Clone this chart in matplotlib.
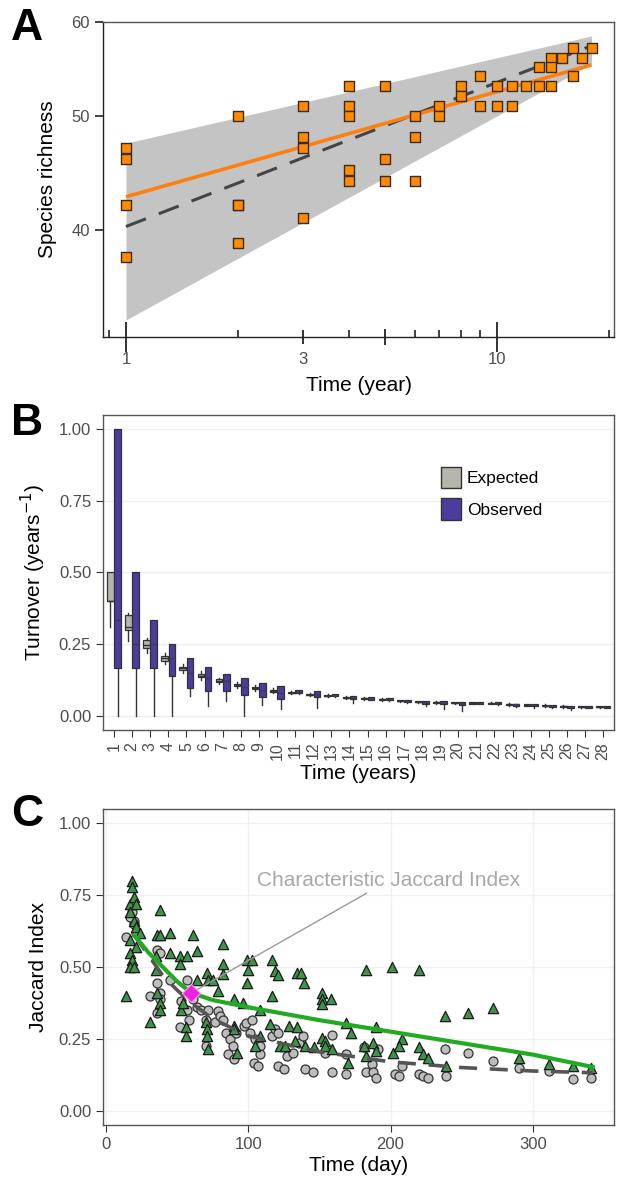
import matplotlib
matplotlib.use("Agg")
import matplotlib.pyplot as plt
from matplotlib.patches import Patch
from matplotlib.ticker import FixedLocator, NullLocator, NullFormatter
import numpy as np

plt.rcParams['font.family'] = ['Liberation Sans', 'DejaVu Sans']

# ---------------- panel A data ----------------
years_a = [1, 1, 1, 1,
           2, 2, 2, 2,
           3, 3, 3, 3,
           4, 4, 4, 4, 4,
           5, 5, 5,
           6, 6, 6,
           7, 7,
           8, 8,
           9, 9,
           10, 10,
           11, 11,
           12,
           13, 13,
           14, 14, 14,
           15,
           16, 16,
           17,
           18]
richness_a = [47, 46, 42, 38,
              50, 42, 42, 39,
              51, 48, 47, 41,
              53, 51, 50, 45, 44,
              53, 46, 44,
              50, 48, 44,
              51, 50,
              53, 52,
              54, 51,
              53, 51,
              53, 51,
              53,
              55, 53,
              56, 55, 53,
              56,
              57, 54,
              56,
              57]
fit_years = [1, 18]
fit_observed = [42.7, 55.2]
fit_expected = [40.3, 57.3]
band_lo = [33.6, 55.3]
band_hi = [47.4, 58.4]

# ---------------- panel B data ----------------
lags = list(range(1, 29))
exp_lo = [0.31, 0.26, 0.22, 0.18, 0.15, 0.125, 0.11, 0.095, 0.087, 0.078,
          0.074, 0.068, 0.064, 0.058, 0.055, 0.052, 0.048, 0.044, 0.042, 0.041,
          0.040, 0.039, 0.035, 0.033, 0.031, 0.028, 0.027, 0.027]
exp_q1 = [0.40, 0.30, 0.235, 0.19, 0.16, 0.135, 0.117, 0.103, 0.093, 0.084,
          0.078, 0.071, 0.067, 0.061, 0.058, 0.055, 0.050, 0.046, 0.044, 0.043,
          0.042, 0.041, 0.037, 0.035, 0.033, 0.030, 0.029, 0.029]
exp_med = [0.40, 0.31, 0.245, 0.20, 0.165, 0.14, 0.122, 0.107, 0.097, 0.087,
           0.080, 0.073, 0.069, 0.063, 0.060, 0.057, 0.052, 0.048, 0.046, 0.045,
           0.044, 0.043, 0.039, 0.037, 0.035, 0.032, 0.031, 0.031]
exp_q3 = [0.50, 0.35, 0.265, 0.21, 0.17, 0.146, 0.127, 0.112, 0.101, 0.091,
          0.082, 0.075, 0.071, 0.065, 0.062, 0.059, 0.054, 0.050, 0.048, 0.047,
          0.046, 0.045, 0.041, 0.039, 0.037, 0.034, 0.033, 0.033]
exp_hi = [0.50, 0.36, 0.27, 0.22, 0.18, 0.155, 0.133, 0.118, 0.106, 0.095,
          0.085, 0.078, 0.074, 0.068, 0.064, 0.061, 0.056, 0.052, 0.050, 0.049,
          0.048, 0.047, 0.043, 0.041, 0.039, 0.036, 0.035, 0.035]

obs_lo = [0.0, 0.0, 0.0, 0.0, 0.067, 0.032, 0.05, 0.0, 0.038, 0.023,
          0.075, 0.027, 0.065, 0.045, 0.055, 0.050, 0.045, 0.032, 0.022, 0.015,
          0.040, 0.038, 0.030, 0.028, 0.028, 0.020, 0.025, 0.026]
obs_q1 = [0.167, 0.167, 0.167, 0.14, 0.096, 0.085, 0.085, 0.071, 0.064, 0.058,
          0.079, 0.065, 0.068, 0.058, 0.056, 0.053, 0.048, 0.042, 0.040, 0.038,
          0.042, 0.040, 0.034, 0.032, 0.031, 0.026, 0.027, 0.028]
obs_med = [0.333, 0.25, 0.25, 0.2, 0.15, 0.13, 0.12, 0.1, 0.09, 0.08,
           0.083, 0.075, 0.071, 0.063, 0.060, 0.057, 0.052, 0.048, 0.046, 0.045,
           0.044, 0.043, 0.039, 0.037, 0.035, 0.031, 0.030, 0.031]
obs_q3 = [1.0, 0.5, 0.333, 0.25, 0.2, 0.17, 0.145, 0.13, 0.114, 0.104,
          0.088, 0.085, 0.076, 0.068, 0.064, 0.061, 0.056, 0.052, 0.050, 0.049,
          0.047, 0.046, 0.042, 0.040, 0.038, 0.035, 0.034, 0.035]
obs_hi = obs_q3

# ---------------- panel C data ----------------
tri_day = [14, 18.5, 18.5, 17, 20, 21, 17, 20, 21, 24, 17, 21, 17, 18.5, 17, 20,
           31, 35, 36, 38, 38, 35, 36, 38, 38, 45, 45, 52, 52, 53, 54, 56, 56, 57,
           61, 64, 64, 71, 72, 70, 71, 71, 72, 75, 79, 82.5, 82.5, 82.5,
           90, 90, 90, 92, 96, 99, 100, 99, 103, 108, 105, 108,
           116.5, 119, 121, 116.5, 115, 122, 126, 129, 134, 137, 139, 134, 133, 140, 146,
           152, 152, 152, 158, 152, 154, 154, 159, 169, 172, 170,
           183, 181, 183, 188, 190, 190, 201, 202, 208, 206, 220, 220, 223, 226,
           238, 239, 254.5, 272, 290, 311, 328, 341]
tri_jac = [0.40, 0.80, 0.78, 0.72, 0.745, 0.72, 0.69, 0.66, 0.64, 0.62, 0.595, 0.57, 0.55, 0.525, 0.50, 0.50,
           0.31, 0.54, 0.61, 0.70, 0.61, 0.49, 0.41, 0.375, 0.35, 0.62, 0.55, 0.54, 0.51, 0.35, 0.375, 0.29, 0.26, 0.54,
           0.61, 0.555, 0.455, 0.48, 0.455, 0.31, 0.283, 0.26, 0.214, 0.455, 0.415, 0.58, 0.51, 0.475,
           0.387, 0.295, 0.283, 0.20, 0.375, 0.525, 0.49, 0.445, 0.525, 0.35, 0.225, 0.26,
           0.525, 0.485, 0.473, 0.40, 0.30, 0.225, 0.225, 0.295, 0.48, 0.48, 0.445, 0.29, 0.243, 0.225, 0.22,
           0.41, 0.387, 0.37, 0.387, 0.254, 0.243, 0.225, 0.214, 0.306, 0.27, 0.167,
           0.49, 0.225, 0.19, 0.237, 0.29, 0.208, 0.50, 0.202, 0.248, 0.225, 0.49, 0.22, 0.196, 0.185,
           0.33, 0.156, 0.34, 0.358, 0.185, 0.162, 0.156, 0.147]
circ_day = [14, 20, 20, 18.5, 17, 21, 31, 36, 38, 38, 36, 38, 36, 45, 52, 53, 57, 57, 58.5, 61,
            64, 67, 70, 70, 72, 76.5, 79, 80.5, 82, 84.5, 87.5, 89, 86, 90, 91.5,
            97, 98.5, 101, 103, 105, 108, 108, 104, 107, 116.5, 119, 121, 121, 125, 127.5,
            131.5, 136, 138.5, 140, 145.5, 154, 159, 159, 169, 169, 181, 183, 187, 188, 190, 191,
            203, 206, 208, 220, 223, 226, 238, 239, 254.5, 272, 290, 311, 328, 341]
circ_jac = [0.606, 0.66, 0.65, 0.69, 0.675, 0.62, 0.40, 0.445, 0.41, 0.39, 0.56, 0.55, 0.34, 0.455,
            0.29, 0.38, 0.455, 0.35, 0.317, 0.39,
            0.36, 0.35, 0.317, 0.225, 0.35, 0.31, 0.346, 0.33, 0.317, 0.27, 0.248, 0.225, 0.196, 0.18, 0.27,
            0.295, 0.306, 0.27, 0.317, 0.248, 0.225, 0.196, 0.167, 0.156, 0.26, 0.283, 0.27, 0.156, 0.144, 0.19,
            0.202, 0.237, 0.26, 0.144, 0.133, 0.202, 0.265, 0.133, 0.196, 0.127, 0.22, 0.133, 0.162, 0.133, 0.115, 0.214,
            0.127, 0.121, 0.154, 0.127, 0.121, 0.115, 0.214, 0.121, 0.202, 0.173, 0.15, 0.139, 0.11, 0.115]
fit_day = [20, 30, 40, 50, 60, 75, 100, 150, 200, 250, 300, 342]
fit_obs_c = [0.61, 0.55, 0.50, 0.45, 0.41, 0.385, 0.36, 0.315, 0.275, 0.235, 0.195, 0.152]
fit_exp_c = [0.61, 0.54, 0.47, 0.42, 0.375, 0.32, 0.26, 0.205, 0.17, 0.15, 0.138, 0.132]
char_day = [60]
char_jac = [0.41]

TICK_GRAY = '#4d4d4d'
FRAME = '#555555'

fig = plt.figure(figsize=(6.18, 11.8), dpi=100)
axA = fig.add_axes([0.1667, 0.7144, 0.8269, 0.2669])
axB = fig.add_axes([0.1667, 0.3814, 0.8269, 0.2669])
axC = fig.add_axes([0.1667, 0.0466, 0.8269, 0.2678])

for ax in (axA, axB, axC):
    for s in ax.spines.values():
        s.set_color(FRAME)
        s.set_linewidth(1.0)
    ax.tick_params(colors='#333333', labelcolor=TICK_GRAY, labelsize=12)

# ---- A ----
axA.set_xscale('log')
axA.set_yscale('log')
axA.fill_between(fit_years, band_lo, band_hi, color='#c4c4c4', lw=0, zorder=1)
axA.plot(fit_years, fit_expected, color='#454545', lw=2.2, dashes=(7, 4.5), zorder=2)
axA.plot(fit_years, fit_observed, color='#ff7f0e', lw=2.6, zorder=3,
         solid_capstyle='butt')
axA.scatter(years_a, richness_a, marker='s', s=48, facecolor='#ff8c00',
            edgecolor='#3b2a14', linewidth=1.0, zorder=4)
axA.set_xlim(0.867, 20.7)
axA.set_ylim(32.5, 60)
axA.yaxis.set_major_locator(FixedLocator([40, 50, 60]))
axA.yaxis.set_minor_locator(NullLocator())
axA.set_yticklabels(['40', '50', '60'])
axA.xaxis.set_major_locator(FixedLocator([1, 3, 5, 10]))
axA.set_xticklabels(['1', '3', '', '10'])
axA.xaxis.set_minor_locator(FixedLocator([0.9, 2, 4, 6, 7, 8, 9, 20]))
axA.xaxis.set_minor_formatter(NullFormatter())
axA.tick_params(axis='y', length=6, width=1.2, color='#222222')
axA.tick_params(axis='x', which='major', direction='inout', length=14, width=1.3,
                color='#222222', pad=4)
axA.tick_params(axis='x', which='minor', direction='in', length=5, width=1.2,
                color='#222222')
for t, L in zip(axA.xaxis.get_major_ticks(), [22, 10, 12, 22]):
    t.tick1line.set_markersize(L)
axA.spines['left'].set_color('#222222')
axA.spines['bottom'].set_color('#222222')
axA.set_ylabel('Species richness', fontsize=15, labelpad=10)
axA.set_xlabel('Time (year)', fontsize=15, labelpad=6)

# ---- B ----
def stats(lo, q1, med, q3, hi):
    return [dict(whislo=a, q1=b, med=c, q3=d, whishi=e, fliers=[])
            for a, b, c, d, e in zip(lo, q1, med, q3, hi)]

for yv in [0, 0.25, 0.5, 0.75, 1.0]:
    axB.axhline(yv, color='#efefef', lw=1.0, zorder=0)
pos = np.array(lags, dtype=float)
axB.bxp(stats(exp_lo, exp_q1, exp_med, exp_q3, exp_hi), positions=pos - 0.2,
        widths=0.36, patch_artist=True, showcaps=False, showfliers=False,
        boxprops=dict(facecolor='#b5b5ac', edgecolor='#333333', lw=0.9),
        medianprops=dict(color='#333333', lw=1.0),
        whiskerprops=dict(color='#333333', lw=1.0), manage_ticks=False)
axB.bxp(stats(obs_lo, obs_q1, obs_med, obs_q3, obs_hi), positions=pos + 0.2,
        widths=0.36, patch_artist=True, showcaps=False, showfliers=False,
        boxprops=dict(facecolor='#4b3c9d', edgecolor='#333333', lw=0.9),
        medianprops=dict(color='#3a3a5a', lw=1.0),
        whiskerprops=dict(color='#333333', lw=1.0), manage_ticks=False)
axB.set_xlim(0.4, 28.6)
axB.set_ylim(-0.05, 1.05)
axB.set_xticks(lags)
axB.set_xticklabels([str(v) for v in lags], rotation=90, fontsize=11.5)
axB.set_yticks([0, 0.25, 0.5, 0.75, 1.0])
axB.set_yticklabels(['0.00', '0.25', '0.50', '0.75', '1.00'])
axB.tick_params(length=5)
axB.set_ylabel('Turnover (years$^{-1}$)', fontsize=15, labelpad=8)
axB.set_xlabel('Time (years)', fontsize=15, labelpad=3)
handles = [Patch(facecolor='#b5b5ac', edgecolor='#333333', label='Expected'),
           Patch(facecolor='#4b3c9d', edgecolor='#333333', label='Observed')]
axB.legend(handles=handles, loc='upper left', bbox_to_anchor=(0.63, 0.885),
           frameon=False, fontsize=12.5, handlelength=1.2, handleheight=1.5,
           handletextpad=0.3, labelspacing=0.6)

# ---- C ----
for yv in [0, 0.25, 0.5, 0.75, 1.0]:
    axC.axhline(yv, color='#f0f0f0', lw=1.0, zorder=0)
for xv in [0, 100, 200, 300]:
    axC.axvline(xv, color='#f0f0f0', lw=1.0, zorder=0)
axC.scatter(circ_day, circ_jac, marker='o', s=42, facecolor='#bdbdbd',
            edgecolor='#333333', linewidth=0.9, zorder=2)
axC.scatter(tri_day, tri_jac, marker='^', s=55, facecolor='#3d9448',
            edgecolor='#1a1a1a', linewidth=0.9, zorder=3)
axC.plot(fit_day, fit_exp_c, color='#555555', lw=2.6, dashes=(5, 3.5), zorder=4)
axC.plot(fit_day, fit_obs_c, color='#22aa22', lw=3.0, zorder=5)
axC.scatter(char_day, char_jac, marker='D', s=85, facecolor='#ee22dd',
            edgecolor='#ff99ee', linewidth=0.8, zorder=6)
axC.annotate('Characteristic Jaccard Index', xy=(char_day[0], char_jac[0]),
             xytext=(106, 0.80), fontsize=15, color='#a8a8a8', va='center',
             arrowprops=dict(arrowstyle='-', color='#9a9a9a', lw=1.0,
                             shrinkA=0, shrinkB=0))
axC.set_xlim(-2, 357)
axC.set_ylim(-0.05, 1.05)
axC.set_xticks([0, 100, 200, 300])
axC.set_yticks([0, 0.25, 0.5, 0.75, 1.0])
axC.set_yticklabels(['0.00', '0.25', '0.50', '0.75', '1.00'])
axC.tick_params(length=5)
axC.set_ylabel('Jaccard Index', fontsize=15, labelpad=8)
axC.set_xlabel('Time (day)', fontsize=15, labelpad=3)

# panel letters
for letter, y in zip(['A', 'B', 'C'], [0.976, 0.641, 0.31]):
    fig.text(0.018, y, letter, fontsize=32, fontweight='bold', va='center',
             ha='left', color='black')

fig.savefig('out.png', dpi=100)
